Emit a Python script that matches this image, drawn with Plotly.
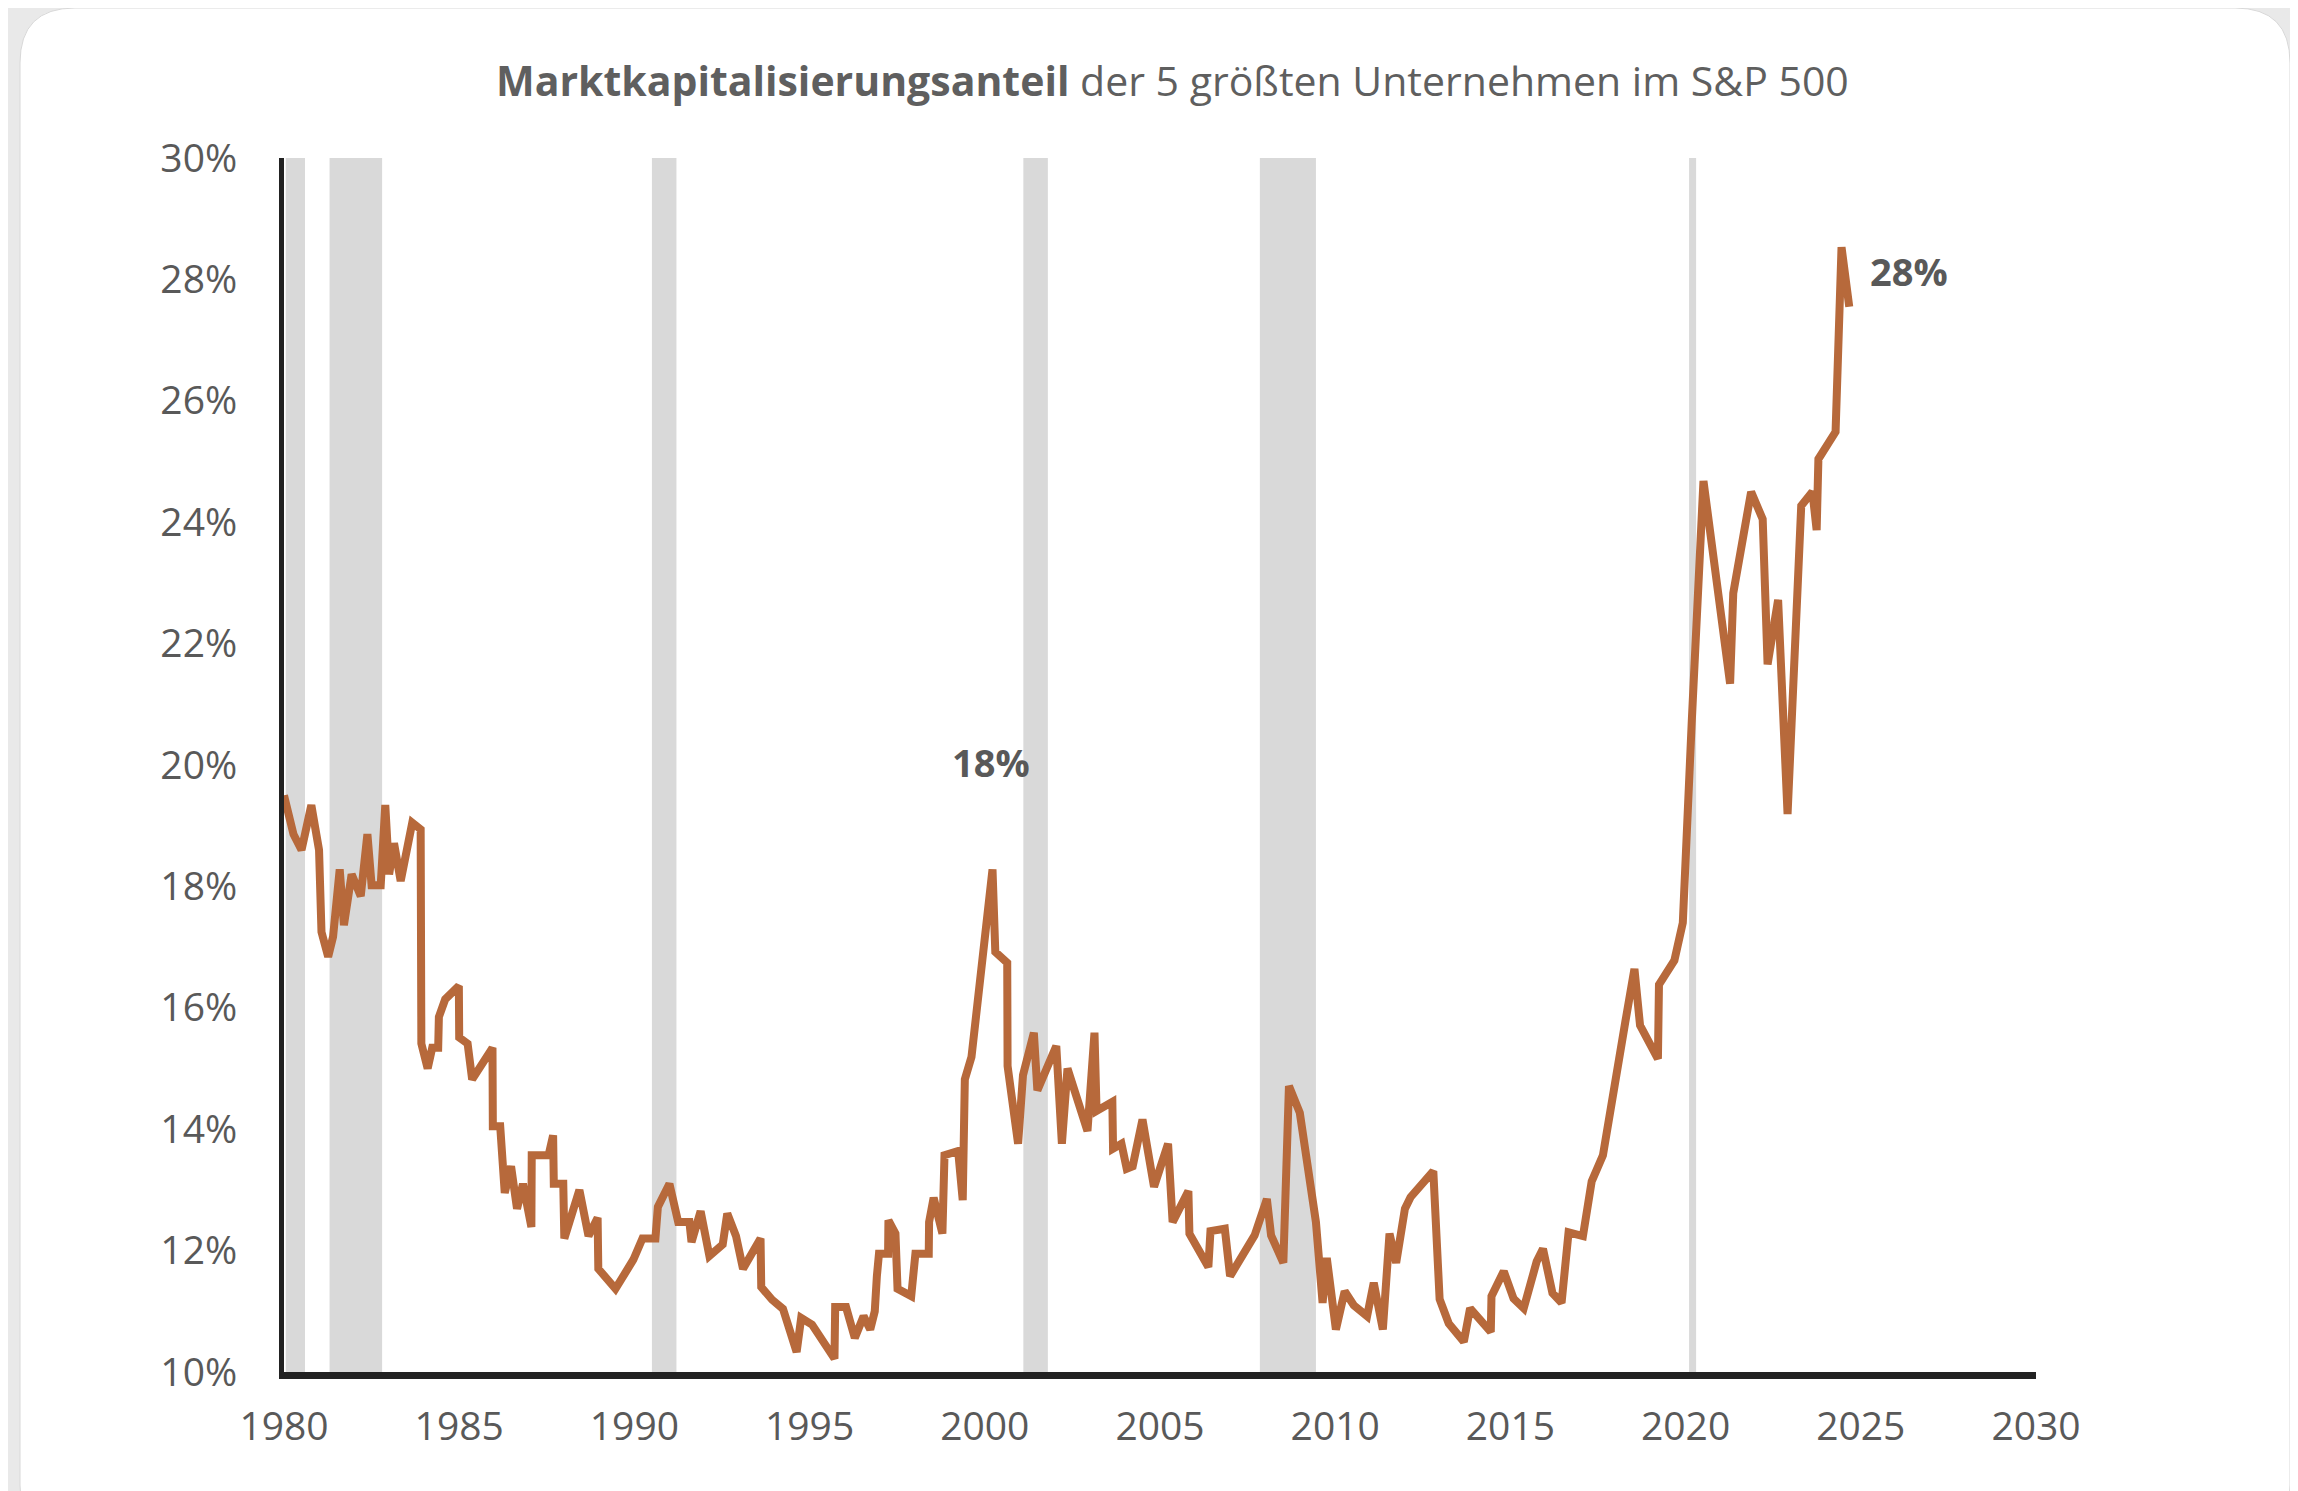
import plotly.graph_objects as go

# ---- data ----
years = [1980.0, 1980.27, 1980.5, 1980.78, 1981.0, 1981.07, 1981.26, 1981.4, 1981.59, 1981.71,
         1981.93, 1982.19, 1982.38, 1982.5, 1982.76, 1982.89, 1983.0, 1983.14, 1983.33, 1983.66,
         1983.9, 1983.92, 1984.1, 1984.23, 1984.4, 1984.42, 1984.6, 1984.99, 1985.0, 1985.24,
         1985.37, 1985.95, 1985.96, 1986.17, 1986.3, 1986.48, 1986.65, 1986.82, 1987.06, 1987.07,
         1987.55, 1987.68, 1987.7, 1987.97, 1988.0, 1988.43, 1988.69, 1988.95, 1988.97, 1989.46,
         1989.97, 1990.23, 1990.6, 1990.67, 1991.0, 1991.25, 1991.57, 1991.63, 1991.89, 1992.14,
         1992.52, 1992.65, 1992.9, 1993.1, 1993.6, 1993.62, 1993.93, 1994.24, 1994.63, 1994.76,
         1995.07, 1995.71, 1995.73, 1996.04, 1996.29, 1996.54, 1996.73, 1996.86, 1996.92, 1996.98,
         1997.24, 1997.25, 1997.45, 1997.51, 1997.9, 1998.02, 1998.4, 1998.41, 1998.54, 1998.79,
         1998.85, 1999.24, 1999.37, 1999.43, 1999.62, 1999.94, 2000.22, 2000.3, 2000.64, 2000.65,
         2000.95, 2001.09, 2001.4, 2001.5, 2001.78, 2002.04, 2002.2, 2002.36, 2002.93, 2003.13,
         2003.19, 2003.64, 2003.66, 2003.9, 2004.05, 2004.22, 2004.5, 2004.83, 2005.23, 2005.36,
         2005.81, 2005.84, 2006.38, 2006.44, 2006.85, 2007.0, 2007.7, 2008.05, 2008.17, 2008.52,
         2008.68, 2008.99, 2009.45, 2009.64, 2009.76, 2010.02, 2010.27, 2010.53, 2010.91, 2011.1,
         2011.36, 2011.55, 2011.74, 2011.99, 2012.15, 2012.8, 2012.98, 2013.24, 2013.67, 2013.85,
         2014.44, 2014.46, 2014.81, 2015.09, 2015.38, 2015.75, 2015.93, 2016.2, 2016.46, 2016.66,
         2017.07, 2017.32, 2017.64, 2017.83, 2018.08, 2018.28, 2018.54, 2018.7, 2019.21, 2019.24,
         2019.68, 2019.92, 2020.18, 2020.51, 2021.27, 2021.36, 2021.87, 2022.2, 2022.34, 2022.64,
         2022.91, 2023.3, 2023.62, 2023.74, 2023.79, 2024.28, 2024.45, 2024.67]

share = [19.5, 18.86, 18.6, 19.34, 18.6, 17.25, 16.84, 17.17, 18.28, 17.36,
         18.2, 17.84, 18.86, 18.02, 18.02, 19.34, 18.2, 18.71, 18.09, 19.05,
         18.94, 15.41, 15.0, 15.34, 15.34, 15.85, 16.14, 16.36, 15.51, 15.41,
         14.82, 15.34, 14.05, 14.05, 12.95, 13.39, 12.69, 13.1, 12.39, 13.57,
         13.57, 13.9, 13.1, 13.1, 12.2, 13.0, 12.24, 12.54, 11.7, 11.37,
         11.85, 12.2, 12.2, 12.72, 13.1, 12.47, 12.47, 12.14, 12.65, 11.91,
         12.1, 12.61, 12.24, 11.7, 12.2, 11.4, 11.19, 11.04, 10.33, 10.89,
         10.78, 10.22, 11.07, 11.07, 10.56, 10.92, 10.7, 11.0, 11.58, 11.95,
         11.95, 12.5, 12.28, 11.37, 11.25, 11.95, 11.95, 12.47, 12.87, 12.28,
         13.57, 13.64, 12.83, 14.82, 15.19, 16.88, 18.28, 16.92, 16.74, 15.04,
         13.76, 14.89, 15.59, 14.64, 15.04, 15.37, 13.76, 15.0, 13.97, 15.59,
         14.3, 14.45, 13.68, 13.76, 13.35, 13.39, 14.16, 13.05, 13.76, 12.47,
         12.98, 12.28, 11.73, 12.32, 12.36, 11.58, 12.25, 12.85, 12.25, 11.8,
         14.71, 14.27, 12.47, 11.14, 11.88, 10.7, 11.33, 11.1, 10.92, 11.47,
         10.7, 12.28, 11.8, 12.69, 12.88, 13.31, 11.2, 10.8, 10.5, 11.05,
         10.66, 11.25, 11.66, 11.21, 11.05, 11.82, 12.03, 11.3, 11.14, 12.3,
         12.24, 13.14, 13.57, 14.27, 15.02, 15.77, 16.64, 15.71, 15.16, 16.38,
         16.78, 17.4, 20.77, 24.68, 21.34, 22.83, 24.5, 24.05, 21.66, 22.72,
         19.19, 24.27, 24.5, 23.87, 25.04, 25.49, 28.53, 27.55]

recession_start = [1980.05, 1981.3, 1990.5, 2001.1, 2007.85, 2020.1]
recession_end = [1980.6, 1982.8, 1991.2, 2001.8, 2009.45, 2020.3]

y_ticks = [10, 12, 14, 16, 18, 20, 22, 24, 26, 28, 30]
y_tick_labels = [f"{v}%" for v in y_ticks]
x_ticks = [1980, 1985, 1990, 1995, 2000, 2005, 2010, 2015, 2020, 2025, 2030]
x_tick_labels = [str(v) for v in x_ticks]

labels_x = [2000.22, 2024.45]
labels_y = [18.28, 28.53]
labels_text = ["18%", "28%"]
labels_xshift = [-2, 67]
labels_yshift = [107, -24]

# ---- layout geometry (page body adds an 8px offset) ----
W, H = 2298, 1491
OFF = 8
ML, MT = 284 - OFF, 158 - OFF
PW, PH = 1752, 1214
MR, MB = W - ML - PW, H - MT - PH

def px(x):
    return (x - OFF - ML) / PW

def py(y):
    return (H - MB - (y - OFF)) / PH

FONT = "Open Sans"
LINE_COLOR = "#b7693b"
TEXT_COLOR = "#595959"

fig = go.Figure()
fig.add_trace(go.Scatter(x=years, y=share, mode="lines",
                         line=dict(color=LINE_COLOR, width=8),
                         hoverinfo="skip", showlegend=False))

shapes = []
# white rounded card (coordinates in screen pixels)
x0, y0, x1, y1, r = 20, 8, 2290, 1540, 55
path = (f"M {px(x0 + r)},{py(y0)} L {px(x1 - r)},{py(y0)} "
        f"Q {px(x1)},{py(y0)} {px(x1)},{py(y0 + r)} "
        f"L {px(x1)},{py(y1 - r)} Q {px(x1)},{py(y1)} {px(x1 - r)},{py(y1)} "
        f"L {px(x0 + r)},{py(y1)} Q {px(x0)},{py(y1)} {px(x0)},{py(y1 - r)} "
        f"L {px(x0)},{py(y0 + r)} Q {px(x0)},{py(y0)} {px(x0 + r)},{py(y0)} Z")
shapes.append(dict(type="path", path=path, xref="paper", yref="paper",
                   fillcolor="white", line=dict(color="#d8d8d8", width=1), layer="below"))
for s, e in zip(recession_start, recession_end):
    shapes.append(dict(type="rect", xref="x", yref="y", x0=s, x1=e, y0=10, y1=30,
                       fillcolor="#d9d9d9", line=dict(width=0), layer="below"))

annotations = [
    dict(x=px(1172), xref="paper", y=py(80), yref="paper", yanchor="middle", xanchor="center",
         text="<b>Marktkapitalisierungsanteil</b> der 5 größten Unternehmen im S&P 500",
         showarrow=False, font=dict(family=FONT, size=41, color="#5f5f5f")),
]
for lx, ly, lt, dx, dy in zip(labels_x, labels_y, labels_text, labels_xshift, labels_yshift):
    annotations.append(dict(x=lx, y=ly, xref="x", yref="y", text=f"<b>{lt}</b>",
                            showarrow=False, xshift=dx, yshift=dy,
                            xanchor="center", yanchor="middle",
                            font=dict(family=FONT, size=38, color=TEXT_COLOR)))

fig.update_layout(
    width=W, height=H,
    margin=dict(l=ML, r=MR, t=MT, b=MB),
    paper_bgcolor="#e9e9e9",
    plot_bgcolor="rgba(0,0,0,0)",
    shapes=shapes,
    annotations=annotations,
    font=dict(family=FONT, color=TEXT_COLOR),
    xaxis=dict(range=[1980, 2030], tickvals=x_ticks, ticktext=x_tick_labels,
               showgrid=False, zeroline=False, showline=True, linecolor="#222222",
               linewidth=7, ticks="", ticklabelstandoff=14,
               tickfont=dict(family=FONT, size=39, color=TEXT_COLOR)),
    yaxis=dict(range=[10, 30], tickvals=y_ticks, ticktext=y_tick_labels,
               showgrid=False, zeroline=False, showline=True, linecolor="#222222",
               linewidth=5, ticks="", ticklabelstandoff=34,
               tickfont=dict(family=FONT, size=39, color=TEXT_COLOR)),
)

fig.write_html("out.html")
